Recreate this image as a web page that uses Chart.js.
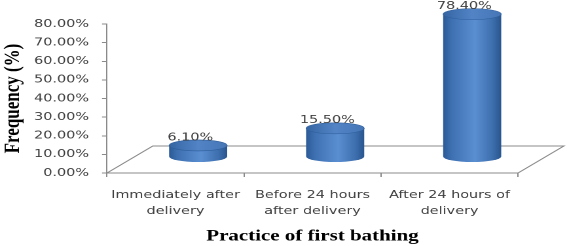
<!DOCTYPE html>
<html>
<head>
<meta charset="utf-8">
<script src="https://cdn.jsdelivr.net/npm/chart.js@4"></script>
<style>
  html, body { margin: 0; padding: 0; background: #fff; }
  #chart { display: block; }
</style>
</head>
<body>
<!-- the original figure is stretched sideways, so the canvas is drawn narrow and shown wide -->
<canvas id="chart" width="433" height="246" style="width:567px;height:246px"></canvas>
<script>
const categories = [
    ['Immediately after', 'delivery'],
    ['Before 24 hours', 'after delivery'],
    ['After 24 hours of', 'delivery']
];
const frequency = [6.1, 15.5, 78.4];
const yTicks = [0, 10, 20, 30, 40, 50, 60, 70, 80];

const axisGray = '#8a8a8a';
const textGray = '#404040';

// Floor of the 3D plot, drawn under the cylinders
const floorPlugin = {
    id: 'floor',
    beforeDatasetsDraw(chart) {
        const ctx = chart.ctx;
        const a = chart.chartArea;
        const dx = 35, dy = 27;
        ctx.save();
        ctx.strokeStyle = axisGray;
        ctx.lineWidth = 1;
        ctx.beginPath();
        ctx.moveTo(a.left, a.bottom);
        ctx.lineTo(a.left + dx, a.bottom - dy);
        ctx.lineTo(a.right + dx, a.bottom - dy);
        ctx.lineTo(a.right, a.bottom);
        ctx.stroke();
        ctx.restore();
    }
};

// Cylinders drawn at the positions of the (invisible) bars
const cylinderPlugin = {
    id: 'cylinders',
    afterDatasetsDraw(chart) {
        const ctx = chart.ctx;
        const meta = chart.getDatasetMeta(0);
        const yScale = chart.scales.y;
        const base = yScale.bottom - 16.5;
        const ry = 5.5;
        ctx.save();
        meta.data.forEach((bar, i) => {
            const cx = bar.x + 17.3;
            const rx = bar.width / 2;
            const top = base - (yScale.bottom - bar.y) * 0.975;

            const body = ctx.createLinearGradient(cx - rx, 0, cx + rx, 0);
            body.addColorStop(0, '#2b5a96');
            body.addColorStop(0.15, '#3f71b2');
            body.addColorStop(0.55, '#5a8fd2');
            body.addColorStop(0.85, '#3e6fae');
            body.addColorStop(1, '#28558e');
            ctx.beginPath();
            ctx.moveTo(cx - rx, top);
            ctx.lineTo(cx - rx, base);
            ctx.ellipse(cx, base, rx, ry, 0, Math.PI, 0, true);
            ctx.lineTo(cx + rx, top);
            ctx.closePath();
            ctx.fillStyle = body;
            ctx.fill();

            const cap = ctx.createLinearGradient(cx - rx, 0, cx + rx, 0);
            cap.addColorStop(0, '#3665a3');
            cap.addColorStop(0.5, '#5284c6');
            cap.addColorStop(1, '#4676b6');
            ctx.beginPath();
            ctx.ellipse(cx, top, rx, ry, 0, 0, Math.PI * 2);
            ctx.fillStyle = cap;
            ctx.fill();
            ctx.strokeStyle = '#2f5f9c';
            ctx.lineWidth = 0.6;
            ctx.stroke();

            ctx.fillStyle = textGray;
            ctx.font = '11px "DejaVu Sans"';
            ctx.textAlign = 'center';
            ctx.textBaseline = 'middle';
            ctx.fillText(frequency[i].toFixed(2) + '%', cx - 6, top - 8);
        });
        ctx.restore();
    }
};

new Chart(document.getElementById('chart'), {
    type: 'bar',
    data: {
        labels: categories,
        datasets: [{
            data: frequency,
            backgroundColor: 'rgba(0,0,0,0)',
            borderWidth: 0,
            categoryPercentage: 1,
            barPercentage: 0.424
        }]
    },
    options: {
        responsive: false,
        animation: false,
        devicePixelRatio: 2,
        layout: { padding: { left: 0, right: 37.4, top: 24, bottom: 0 } },
        plugins: { legend: { display: false }, tooltip: { enabled: false } },
        scales: {
            x: {
                afterFit(scale) { scale.height = 73; },
                grid: { drawOnChartArea: false, tickLength: 4, color: axisGray },
                border: { color: axisGray },
                ticks: {
                    padding: 10,
                    color: textGray,
                    font: { family: 'DejaVu Sans', size: 11, lineHeight: 1.45 }
                },
                title: {
                    display: true,
                    text: 'Practice of first bathing',
                    color: '#000',
                    padding: { top: 0, bottom: 0 },
                    font: { family: 'Liberation Serif', size: 16, weight: 'bold' }
                }
            },
            y: {
                min: 0,
                max: 80,
                afterFit(scale) { scale.width = 81.7; },
                afterBuildTicks(scale) { scale.ticks = yTicks.map(v => ({ value: v })); },
                grid: { drawOnChartArea: false, tickLength: 3.8, color: axisGray },
                border: { color: axisGray },
                ticks: {
                    padding: 10,
                    color: textGray,
                    font: { family: 'DejaVu Sans', size: 11 },
                    callback: v => v.toFixed(2) + '%'
                },
                title: {
                    display: true,
                    text: 'Frequency (%)',
                    color: '#000',
                    padding: { top: 0, bottom: 0 },
                    font: { family: 'Liberation Serif', size: 17, weight: 'bold' }
                }
            }
        }
    },
    plugins: [floorPlugin, cylinderPlugin]
});
</script>
</body>
</html>
